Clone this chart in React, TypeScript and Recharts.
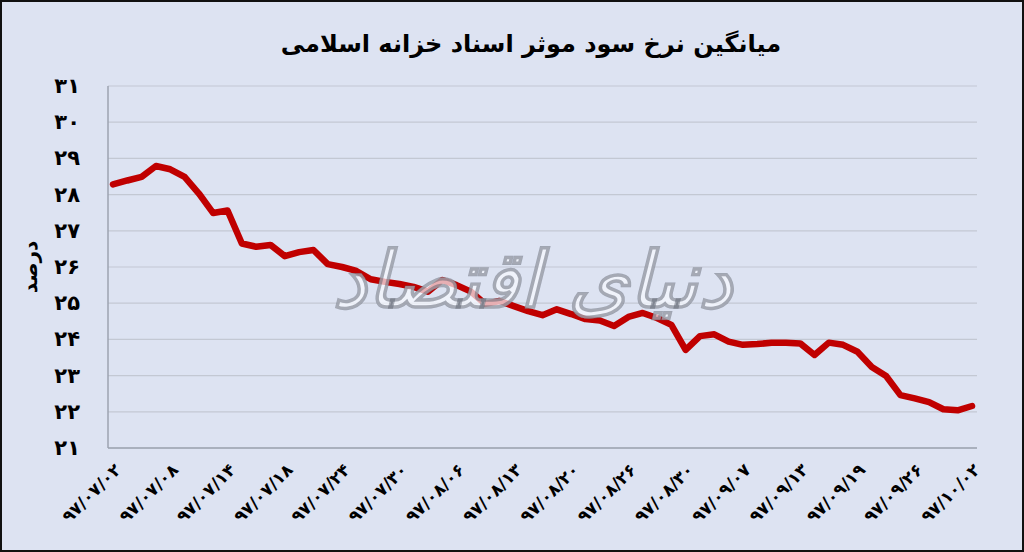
import React from 'react';
import { LineChart, Line, XAxis, YAxis, CartesianGrid, Label } from 'recharts';

const title = 'میانگین نرخ سود موثر اسناد خزانه اسلامی';
const yAxisTitle = 'درصد';
const watermark = 'دنیای اقتصاد';

const tickLabels = [
  '۹۷/۰۷/۰۲', '۹۷/۰۷/۰۸', '۹۷/۰۷/۱۴', '۹۷/۰۷/۱۸', '۹۷/۰۷/۲۴', '۹۷/۰۷/۳۰',
  '۹۷/۰۸/۰۶', '۹۷/۰۸/۱۳', '۹۷/۰۸/۲۰', '۹۷/۰۸/۲۶', '۹۷/۰۸/۳۰', '۹۷/۰۹/۰۷',
  '۹۷/۰۹/۱۳', '۹۷/۰۹/۱۹', '۹۷/۰۹/۲۶', '۹۷/۱۰/۰۲',
];

const rates = [
  28.28, 28.39, 28.49, 28.79, 28.70, 28.49, 28.03, 27.49, 27.56, 26.65,
  26.56, 26.61, 26.30, 26.41, 26.47, 26.08, 26.00, 25.89, 25.66, 25.59,
  25.53, 25.45, 25.32, 25.64, 25.50, 25.32, 24.98, 25.06, 24.92, 24.78,
  24.67, 24.83, 24.70, 24.56, 24.52, 24.37, 24.62, 24.73, 24.59, 24.40,
  23.71, 24.09, 24.14, 23.94, 23.85, 23.87, 23.91, 23.91, 23.89, 23.57,
  23.91, 23.85, 23.66, 23.24, 22.99, 22.46, 22.37, 22.27, 22.07, 22.04,
  22.16,
];

const yTicks = [21, 22, 23, 24, 25, 26, 27, 28, 29, 30, 31];
const pointsPerLabel = 4;

const data = rates.map((v, i) => ({ idx: i, rate: v }));
const xTicks = tickLabels.map((_, i) => i * pointsPerLabel);

const faDigits = '۰۱۲۳۴۵۶۷۸۹';
const toFa = (n: number | string) => String(n).replace(/[0-9]/g, (d) => faDigits[Number(d)]);

const FONT = '"DejaVu Sans", sans-serif';

const XTick = (props: any) => {
  const { x, y, payload } = props;
  const label = tickLabels[Math.round(payload.value / pointsPerLabel)] ?? '';
  const ax = x + 9;
  const ay = y + 23;
  return (
    <text
      x={ax}
      y={ay}
      transform={`rotate(-45, ${ax}, ${ay})`}
      textAnchor="end"
      fontFamily={FONT}
      fontWeight="bold"
      fontSize={17}
      letterSpacing={1}
      fill="#000"
    >
      {label}
    </text>
  );
};

const YTick = (props: any) => {
  const { x, y, payload } = props;
  return (
    <text x={x} y={y} textAnchor="end" dominantBaseline="central" fontFamily={FONT} fontWeight="bold" fontSize={21} fill="#000">
      {toFa(payload.value)}
    </text>
  );
};

const YTitle = (props: any) => {
  const vb = props.viewBox || {};
  const cx = (vb.x ?? 0) + 30;
  const cy = (vb.y ?? 0) + (vb.height ?? 0) / 2;
  return (
    <text
      x={cx}
      y={cy}
      transform={`rotate(-90, ${cx}, ${cy})`}
      textAnchor="middle"
      dominantBaseline="central"
      fontFamily={FONT}
      fontWeight="bold"
      fontSize={20}
      fill="#000"
    >
      {yAxisTitle}
    </text>
  );
};

export default function App() {
  return (
    <div
      style={{
        position: 'fixed',
        top: 0,
        left: 0,
        width: 1024,
        height: 552,
        background: '#dde3f2',
        overflow: 'hidden',
      }}
    >
      <div
        style={{
          position: 'absolute',
          top: 26,
          left: 0,
          width: 1062,
          textAlign: 'center',
          fontFamily: FONT,
          fontWeight: 'bold',
          fontSize: 24,
          color: '#000',
          direction: 'rtl',
          lineHeight: '36px',
        }}
      >
        {title}
      </div>
      <div style={{ position: 'absolute', top: 0, left: 0 }}>
        <LineChart width={1024} height={552} data={data} margin={{ top: 86, right: 47, left: 0, bottom: 0 }}>
          <CartesianGrid horizontal vertical={false} stroke="#c3c8d3" strokeWidth={1.2} />
          <XAxis
            dataKey="idx"
            type="number"
            domain={[0, rates.length - 1]}
            ticks={xTicks}
            interval={0}
            padding={{ left: 5, right: 5 }}
            height={104}
            axisLine={{ stroke: '#9ca3b1', strokeWidth: 1.5 }}
            tickLine={false}
            tickSize={0}
            tickMargin={0}
            tick={<XTick />}
          />
          <YAxis
            type="number"
            domain={[21, 31]}
            ticks={yTicks}
            interval={0}
            width={108}
            axisLine={{ stroke: '#9ca3b1', strokeWidth: 1.5 }}
            tickLine={false}
            tickSize={28}
            tickMargin={0}
            tick={<YTick />}
          >
            <Label content={<YTitle />} />
          </YAxis>
          <YAxis
            yAxisId="right"
            orientation="right"
            domain={[21, 31]}
            width={0}
            tick={false}
            tickLine={false}
            axisLine={{ stroke: '#9ca3b1', strokeWidth: 1.5 }}
          />
          <Line
            type="linear"
            dataKey="rate"
            stroke="#c00000"
            strokeWidth={6.5}
            strokeLinejoin="round"
            strokeLinecap="round"
            dot={false}
            activeDot={false}
            isAnimationActive={false}
          />
        </LineChart>
      </div>
      <div
        style={{
          position: 'absolute',
          left: 335,
          top: 215,
          width: 395,
          height: 130,
          display: 'flex',
          alignItems: 'center',
          justifyContent: 'center',
          fontFamily: FONT,
          fontWeight: 'bold',
          fontStyle: 'italic',
          fontSize: 78,
          color: 'rgba(248,250,255,0.7)',
          WebkitTextStroke: '1px rgba(90,95,110,0.5)',
          direction: 'rtl',
          whiteSpace: 'nowrap',
          pointerEvents: 'none',
        }}
      >
        {watermark}
      </div>
      <div
        style={{
          position: 'absolute',
          inset: 0,
          border: '2px solid #111',
          pointerEvents: 'none',
        }}
      />
    </div>
  );
}
